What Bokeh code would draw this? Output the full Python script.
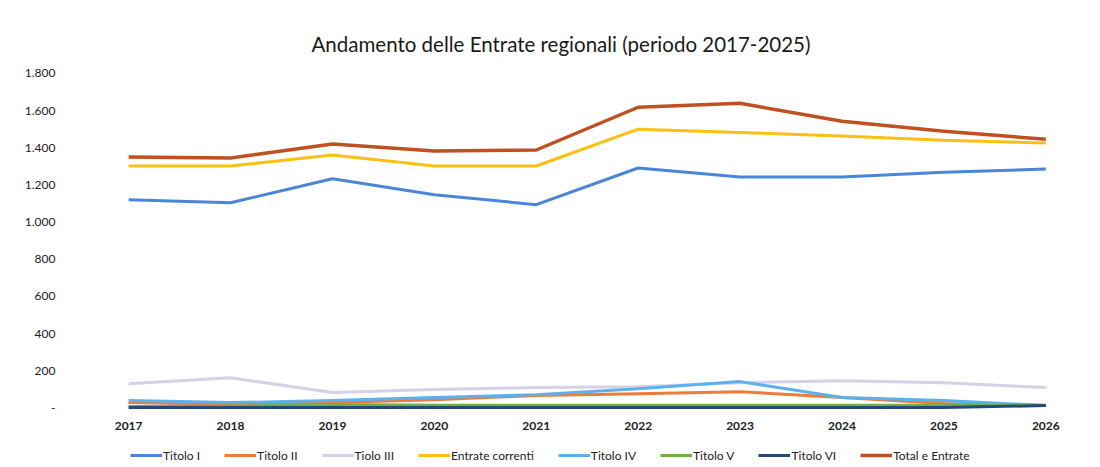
from bokeh.plotting import figure
from bokeh.layouts import column
from bokeh.models import FixedTicker, Legend, LegendItem, Range1d
from bokeh.embed import file_html
from bokeh.resources import INLINE

years = [2017, 2018, 2019, 2020, 2021, 2022, 2023, 2024, 2025, 2026]

titolo_i = [1120, 1104, 1233, 1147, 1094, 1291, 1243, 1243, 1268, 1286]
titolo_ii = [29, 19, 29, 45, 67, 77, 88, 56, 24, 13]
tiolo_iii = [131, 163, 83, 99, 110, 115, 136, 147, 136, 110]
entrate_correnti = [1302, 1302, 1361, 1302, 1302, 1500, 1482, 1463, 1441, 1425]
titolo_iv = [40, 29, 40, 56, 72, 104, 142, 56, 40, 13]
titolo_v = [8, 10, 19, 15, 15, 15, 15, 15, 15, 15]
titolo_vi = [3, 3, 3, 3, 3, 3, 3, 3, 3, 13]
totale_entrate = [1350, 1345, 1420, 1382, 1388, 1618, 1639, 1543, 1489, 1446]

series_names = ["Titolo I", "Titolo II", "Tiolo III", "Entrate correnti",
                "Titolo IV", "Titolo V", "Titolo VI", "Total e Entrate"]
series_values = [titolo_i, titolo_ii, tiolo_iii, entrate_correnti,
                 titolo_iv, titolo_v, titolo_vi, totale_entrate]
colors = ["#4a86d8", "#ee7b3a", "#d6d1e6", "#fdc010",
          "#5cb0ee", "#6fb043", "#254a7a", "#c0501f"]
widths = [3, 3, 3, 3, 3, 3, 3, 3.5]

y_ticks = [0, 200, 400, 600, 800, 1000, 1200, 1400, 1600, 1800]
y_labels = ["-", "200", "400", "600", "800", "1.000", "1.200", "1.400", "1.600", "1.800"]

FONT = "Lato"

p = figure(width=1092, height=432, output_backend="svg", toolbar_location=None,
           x_range=Range1d(2016.41, 2026.36), y_range=Range1d(-13.4, 1869.5),
           min_border_left=68, min_border_right=10, min_border_top=60, min_border_bottom=20)
p.outline_line_color = None
p.xgrid.grid_line_color = None
p.ygrid.grid_line_color = None

p.title.text = "Andamento delle Entrate regionali (periodo 2017-2025)"
p.title.align = "left"
p.title.offset = 243
p.title.text_font = FONT
p.title.text_font_size = "20.5px"
p.title.text_font_style = "normal"
p.title.text_color = "#1a1a1a"
p.title.standoff = 10

p.yaxis.ticker = FixedTicker(ticks=y_ticks)
p.yaxis.major_label_overrides = {t: l for t, l in zip(y_ticks, y_labels)}
p.xaxis.ticker = FixedTicker(ticks=years)
p.xaxis.major_label_overrides = {y: str(y) for y in years}
for ax in (p.xaxis, p.yaxis):
    ax.axis_line_color = None
    ax.major_tick_line_color = None
    ax.minor_tick_line_color = None
    ax.major_label_text_font = FONT
    ax.major_label_text_color = "#222222"
p.yaxis.major_label_text_font_size = "12px"
p.yaxis.major_label_standoff = 7
p.xaxis.major_label_text_font_size = "12px"
p.xaxis.major_label_text_font_style = "bold"
p.xaxis.major_label_standoff = 5

for vals, c, w in zip(series_values, colors, widths):
    p.line(years, vals, line_color=c, line_width=w, line_join="round")

# legend strip below the chart
lg = figure(width=1092, height=34, output_backend="svg", toolbar_location=None,
            x_range=Range1d(0, 1), y_range=Range1d(0, 1),
            x_axis_location=None, y_axis_location=None,
            min_border_left=0, min_border_right=0, min_border_top=0, min_border_bottom=0)
lg.outline_line_color = None
lg.xgrid.grid_line_color = None
lg.ygrid.grid_line_color = None
nan = float("nan")
items = []
for name, c, w in zip(series_names, colors, widths):
    r = lg.line(x=[nan], y=[nan], line_color=c, line_width=w)
    items.append(LegendItem(label=name, renderers=[r]))
legend = Legend(items=items, orientation="horizontal", location=(62, 1),
                label_text_font=FONT, label_text_font_size="12px",
                label_text_color="#222222", glyph_width=32, label_standoff=1,
                spacing=24, border_line_color=None, background_fill_alpha=0,
                padding=2, margin=0)
lg.add_layout(legend, "center")

layout = column(p, lg, spacing=0)
open("out.html", "w").write(file_html(layout, INLINE))
